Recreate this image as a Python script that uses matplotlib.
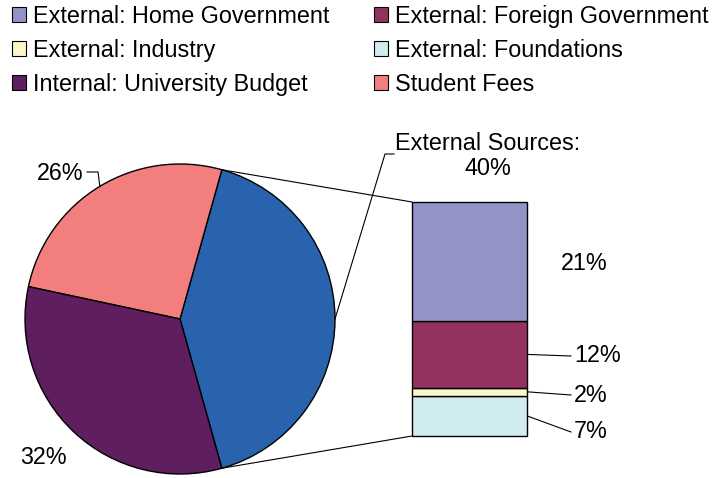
import numpy as np
import matplotlib
matplotlib.use("Agg")
import matplotlib.pyplot as plt
from matplotlib.patches import Patch, ConnectionPatch

plt.rcParams["font.family"] = ["Liberation Sans", "DejaVu Sans"]

# ---- data ----
pie_names = ["External Sources", "Student Fees", "Internal: University Budget"]
bar_names = ["External: Home Government", "External: Foreign Government",
             "External: Industry", "External: Foundations"]
bar_values = [21.0, 11.8, 1.4, 7.1]
student_fees = 26.0
internal_budget = 32.7
pie_values = [sum(bar_values), student_fees, internal_budget]

pie_labels = ["External Sources:\n40%", "26%", "32%"]
bar_labels = ["21%", "12%", "2%", "7%"]

pie_colors = ["#2A63AD", "#F27F7E", "#5E1E5F"]
bar_colors = ["#9393C6", "#93325F", "#FBF7CB", "#D1ECEF"]

W, H = 714, 478
fig = plt.figure(figsize=(W / 100, H / 100), dpi=100)
ax = fig.add_axes([0, 0, 1, 1])
ax.axis("off")


def py(y):
    # pixel row (from top) -> axes y
    return H - y


FS = 16.8

# ---- pie ----
cx, cy, r = 180, py(319), 155
start = -360 * pie_values[0] / sum(pie_values) / 2
wedges, _ = ax.pie(pie_values, colors=pie_colors, startangle=start,
                   counterclock=True, center=(cx, cy), radius=r,
                   wedgeprops=dict(edgecolor="black", linewidth=1.0))
ax.set_xlim(0, W)
ax.set_ylim(0, H)
ax.set_aspect("equal")


def edge_point(w):
    a = np.deg2rad((w.theta1 + w.theta2) / 2)
    return cx + r * np.cos(a), cy + r * np.sin(a)


# external sources label with leader
ex, ey = edge_point(wedges[0])
ax.plot([ex, 385, 394], [ey, py(154), py(154)], color="black", lw=0.8)
ax.text(488, py(156), pie_labels[0], ha="center", va="center",
        fontsize=FS, linespacing=1.15)

# student fees label with leader
sx, sy = edge_point(wedges[1])
ax.plot([sx, 98, 87], [sy, py(172), py(172)], color="black", lw=0.8)
ax.text(84, py(173), pie_labels[1], ha="right", va="center", fontsize=FS)

# internal budget label
ax.text(43, py(458), pie_labels[2], ha="center", va="center", fontsize=FS)

# ---- bar ----
bx = fig.add_axes([412 / W, 42 / H, 115 / W, 234 / H])
total = sum(bar_values)
bx.set_xlim(-0.5, 0.5)
bx.set_ylim(0, total)
bx.axis("off")
bottom = 0.0
mids = []
for v, c in zip(bar_values[::-1], bar_colors[::-1]):
    bx.bar(0, v, width=1.0, bottom=bottom, color=c, edgecolor="black",
           linewidth=1.0, clip_on=False)
    mids.append(bottom + v / 2)
    bottom += v
mids = mids[::-1]

# connection lines pie -> bar
w0 = wedges[0]
for ang, yb in [(w0.theta2, total), (w0.theta1, 0)]:
    a = np.deg2rad(ang)
    p = (cx + r * np.cos(a), cy + r * np.sin(a))
    con = ConnectionPatch(xyA=p, coordsA=ax.transData, xyB=(-0.5, yb),
                          coordsB=bx.transData, color="black", lw=0.8)
    fig.add_artist(con)

# bar labels
ax.text(584, py(263), bar_labels[0], ha="center", va="center", fontsize=FS)
ends = [py(356), py(395), py(432)]
for i, ye in zip(range(1, 4), ends):
    p = bx.transData.transform((0.5, mids[i]))
    xs, ys = ax.transData.inverted().transform(p)
    ax.plot([xs, 571], [ys, ye], color="black", lw=0.8)
    ax.text(574, ye, bar_labels[i], ha="left", va="center", fontsize=FS)

# ---- legend ----
legend_names = [bar_names[0], bar_names[2], pie_names[2],
                bar_names[1], bar_names[3], pie_names[1]]
legend_colors = [bar_colors[0], bar_colors[2], pie_colors[2],
                 bar_colors[1], bar_colors[3], pie_colors[1]]
handles = [Patch(facecolor=c, edgecolor="black", linewidth=0.8)
           for c in legend_colors]
fig.legend(handles, legend_names, ncol=2, loc="upper left",
           bbox_to_anchor=(0.01, 1.0), frameon=False, fontsize=FS,
           handlelength=0.62, handleheight=0.62, handletextpad=0.3,
           columnspacing=1.9, labelspacing=0.48, borderaxespad=0.1,
           borderpad=0.1)

fig.savefig("out.png", dpi=100)
